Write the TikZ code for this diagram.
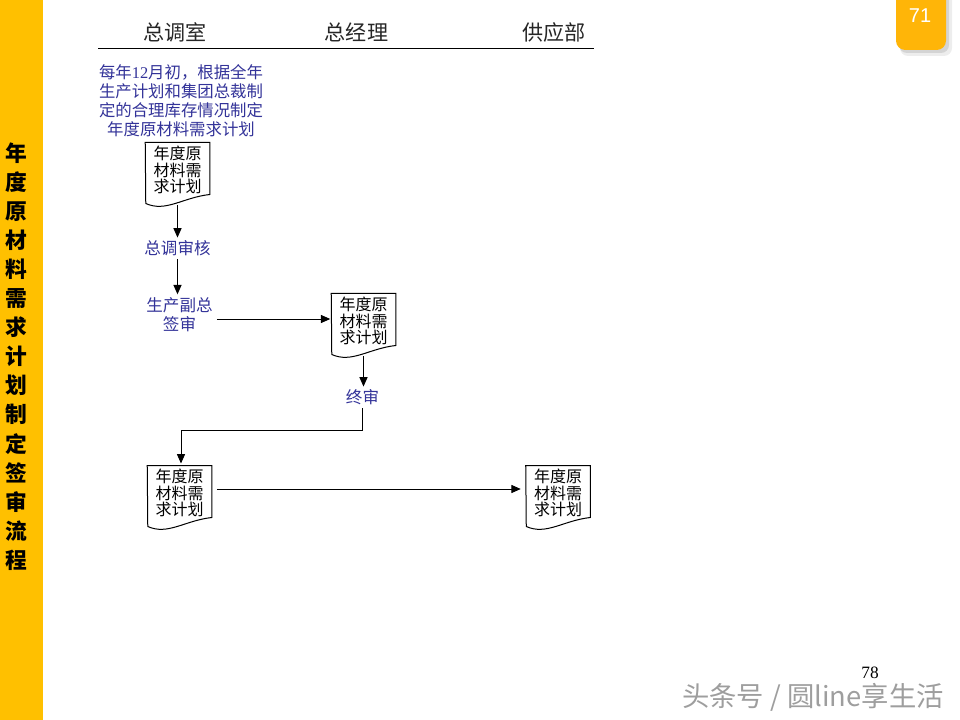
\documentclass[tikz,border=0pt]{standalone}
\usepackage{fontspec}
\setmainfont{Noto Sans CJK SC}
\newfontfamily\latinserif{Liberation Serif}
\newfontfamily\latinsans{Liberation Sans}
\usetikzlibrary{arrows.meta}
\definecolor{barcol}{HTML}{FFC000}
\definecolor{badgecol}{HTML}{FFB508}
\definecolor{stepcol}{HTML}{333399}
\tikzset{
  x=0.75pt,y=-0.75pt,
  flow/.style={line width=0.75pt,-{Triangle[length=7pt,width=6pt]}},
  plain/.style={line width=0.75pt},
  headtext/.style={font=\fontsize{15.8}{18}\selectfont,text=black!85,inner sep=0pt},
  stepnote/.style={font=\fontsize{12.4}{14}\selectfont,text=stepcol,align=center,inner xsep=3pt,inner ysep=2.25pt},
  docbox/.style={minimum width=48pt,minimum height=46.5pt,inner sep=0pt,align=center,anchor=north,
    font=\fontsize{12}{12.6}\selectfont,text=black},
}
\newcommand{\flowdoc}[3]{%
  \fill[white] (#2-32,#3) rectangle ++(64,60);
  \node[docbox] (#1) at (#2,#3) {年度原\\材料需\\求计划\\[-6pt]\mbox{}};
  \draw[plain,line join=miter] (#1.north west) -- (#1.north east) -- ++(0,52)
    .. controls +(-27,3) and +(20,9) .. ++(-64,9) -- cycle;
}
\begin{document}
\begin{tikzpicture}
\useasboundingbox (0,0) rectangle (960,720);
\fill[white] (0,0) rectangle (960,720);
% left bar
\fill[barcol] (0,0) rectangle (43,720);
\node[inner sep=0pt,align=center,font=\fontsize{16.3}{21.8}\bfseries\selectfont,text=black] (title) at (16.5,356.5)
  {年\\度\\原\\材\\料\\需\\求\\计\\划\\制\\定\\签\\审\\流\\程};
% page badge
\fill[black,opacity=0.07,rounded corners=6pt] (900,-8) rectangle (952,56);
\fill[black,opacity=0.10,rounded corners=6pt] (899,-8) rectangle (949,53);
\fill[badgecol,rounded corners=7pt] (896,-12) rectangle (946,50);
\node[inner sep=0pt,text=white,font=\fontsize{15}{18}\latinsans\selectfont] (badge) at (920,16) {71};
% headers
\node[headtext] (h1) at (175,32) {总调室};
\node[headtext] (h2) at (356.5,32) {总经理};
\node[headtext] (h3) at (554,32) {供应部};
\coordinate (ruleL) at (98,48.5);
\coordinate (ruleR) at (594,48.5);
\draw[plain] (ruleL) -- (ruleR);
% intro note
\node[stepnote,inner sep=0pt,font=\fontsize{12.3}{14.3}\selectfont] (intro) at (181,100.5)
  {每年{\latinserif 12}月初，根据全年\\生产计划和集团总裁制\\定的合理库存情况制定\\年度原材料需求计划};
% documents
\flowdoc{d1}{177.5}{142.5}
\flowdoc{d2}{363.5}{293.5}
\flowdoc{d3}{179.5}{465.5}
\flowdoc{d4}{558}{465.5}
% step notes
\node[stepnote] (rev) at (177.5,248.5) {总调审核};
\node[stepnote] (sign) at (179.5,314.5) {生产副总\\签审};
\node[stepnote] (fin) at (362.5,397.5) {终审};
% helper coordinates
\coordinate (a1) at (0,319);
\coordinate (a2) at (0,489);
\coordinate (bend) at (181,430.5);
% connectors
\draw[flow] (d1.south) -- (d1.south |- rev.north);
\draw[flow] (rev.south) -- (rev.south |- sign.north);
\draw[flow,shorten >=0.75pt] (sign.east |- a1) -- (d2.west |- a1);
\draw[flow] (d2.south) -- (d2.south |- fin.north);
\draw[flow,shorten >=1.5pt,rounded corners=0pt] (fin.south) |- (bend) -- (bend |- d3.north);
\draw[flow,shorten <=3.75pt,shorten >=3.75pt] (d3.east |- a2) -- (d4.west |- a2);
% page number and watermark
\node[inner sep=0pt,font=\fontsize{13}{15}\latinserif\selectfont,text=black] (pnum) at (870,673) {78};
\node[inner sep=0pt,text=black!38,font=\fontsize{20.5}{22}\selectfont] (mark) at (813,697) {头条号 / 圆line享生活};
\end{tikzpicture}
\end{document}
